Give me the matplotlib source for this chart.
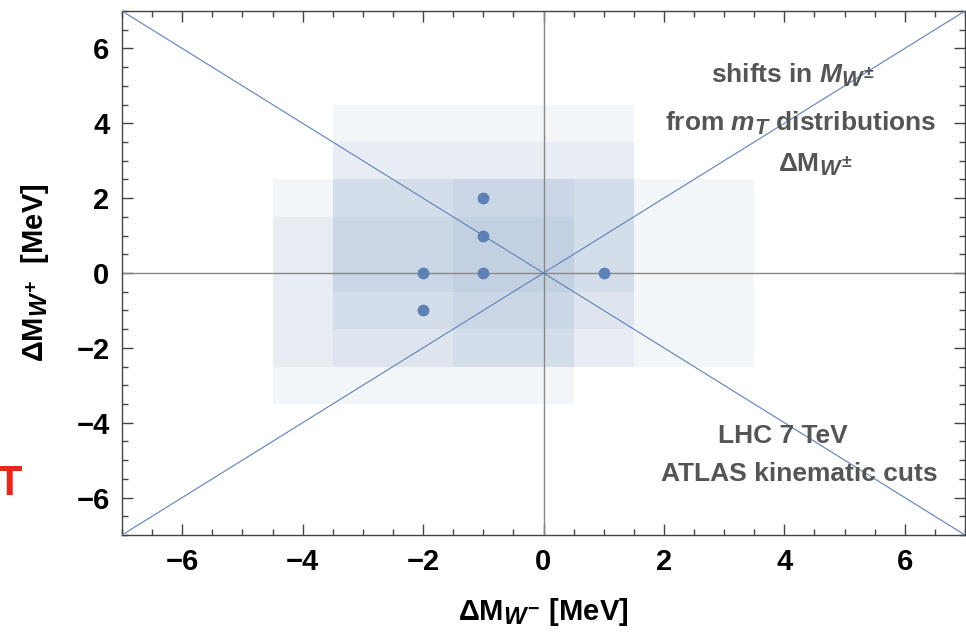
import numpy as np
import matplotlib
import matplotlib.pyplot as plt
import matplotlib._mathtext as mt
from matplotlib.patches import Rectangle
from matplotlib.ticker import MultipleLocator

plt.rcParams['font.family'] = ['Liberation Sans', 'DejaVu Sans']
plt.rcParams['font.weight'] = 'bold'
plt.rcParams['axes.labelweight'] = 'bold'
plt.rcParams['mathtext.fontset'] = 'custom'
plt.rcParams['mathtext.rm'] = 'Liberation Sans:bold'
plt.rcParams['mathtext.bf'] = 'Liberation Sans:bold'
plt.rcParams['mathtext.it'] = 'Liberation Sans:bold:italic'
# bigger sub/superscripts, closer to the Mathematica look
mt.SHRINK_FACTOR = 0.82

# mass shifts (MeV) and their uncertainty half-widths
dm_wminus = [-2, -1, -1, -1, -2, 1]
dm_wplus = [0, 0, 1, 2, -1, 0]
err_wminus = [2.5, 2.5, 2.5, 2.5, 2.5, 2.5]
err_wplus = [2.5, 2.5, 2.5, 2.5, 2.5, 2.5]

diag_x = [-7, 7]
xticks = [-6, -4, -2, 0, 2, 4, 6]

blue = '#5E81B5'

fig = plt.figure(figsize=(9.66, 6.35), dpi=100)
ax = fig.add_axes([122/966, 1 - 535/635, (965 - 122)/966, (535 - 11)/635])

# uncertainty boxes
for x, y, ex, ey in zip(dm_wminus, dm_wplus, err_wminus, err_wplus):
    ax.add_patch(Rectangle((x - ex, y - ey), 2*ex, 2*ey, facecolor=blue,
                           alpha=0.07, edgecolor='none', zorder=1))

ax.axhline(0, color='#888888', lw=1.0, zorder=2)
ax.axvline(0, color='#888888', lw=1.0, zorder=2)
ax.plot(diag_x, diag_x, color=blue, lw=0.8, zorder=3)
ax.plot(diag_x, [-v for v in diag_x], color=blue, lw=0.8, zorder=3)
ax.plot(dm_wminus, dm_wplus, 'o', color=blue, ms=8.5, mec='none', zorder=4)

ax.set_xlim(-7, 7)
ax.set_ylim(-7, 7)
ax.set_xticks(xticks)
ax.set_yticks(xticks)
ax.xaxis.set_minor_locator(MultipleLocator(0.5))
ax.yaxis.set_minor_locator(MultipleLocator(0.5))
ax.tick_params(which='both', direction='in', top=True, right=True,
               color='#444444', width=1)
ax.tick_params(which='major', length=8, labelsize=21, pad=9)
ax.tick_params(which='minor', length=4)
for s in ax.spines.values():
    s.set_color('#444444')
    s.set_linewidth(1)

ax.set_xlabel(r'$\Delta\mathrm{M}_{W^{-}}$ [MeV]', fontsize=21, labelpad=15)
ax.set_ylabel(r'$\Delta\mathrm{M}_{W^{+}}$  [MeV]', fontsize=21, labelpad=18)

tc = '#555555'
ax.text(4.14, 5.29, r'shifts in $M_{W^{\pm}}$', ha='center', va='center', fontsize=19, color=tc)
ax.text(4.27, 4.01, r'from $m_{T}$ distributions', ha='center', va='center', fontsize=19, color=tc)
ax.text(4.52, 2.89, r'$\Delta\mathrm{M}_{W^{\pm}}$', ha='center', va='center', fontsize=19, color=tc)
ax.text(3.97, -4.36, 'LHC 7 TeV', ha='center', va='center', fontsize=19, color=tc)
ax.text(4.25, -5.37, 'ATLAS kinematic cuts', ha='center', va='center', fontsize=19, color=tc)

# stray red letter cut off at the left edge, as in the source figure
fig.text(9.5/966, 1 - 484/635, 'T', color='#E8261C', fontsize=30, fontweight='bold',
         ha='center', va='center')

fig.savefig('out.png', dpi=100)
